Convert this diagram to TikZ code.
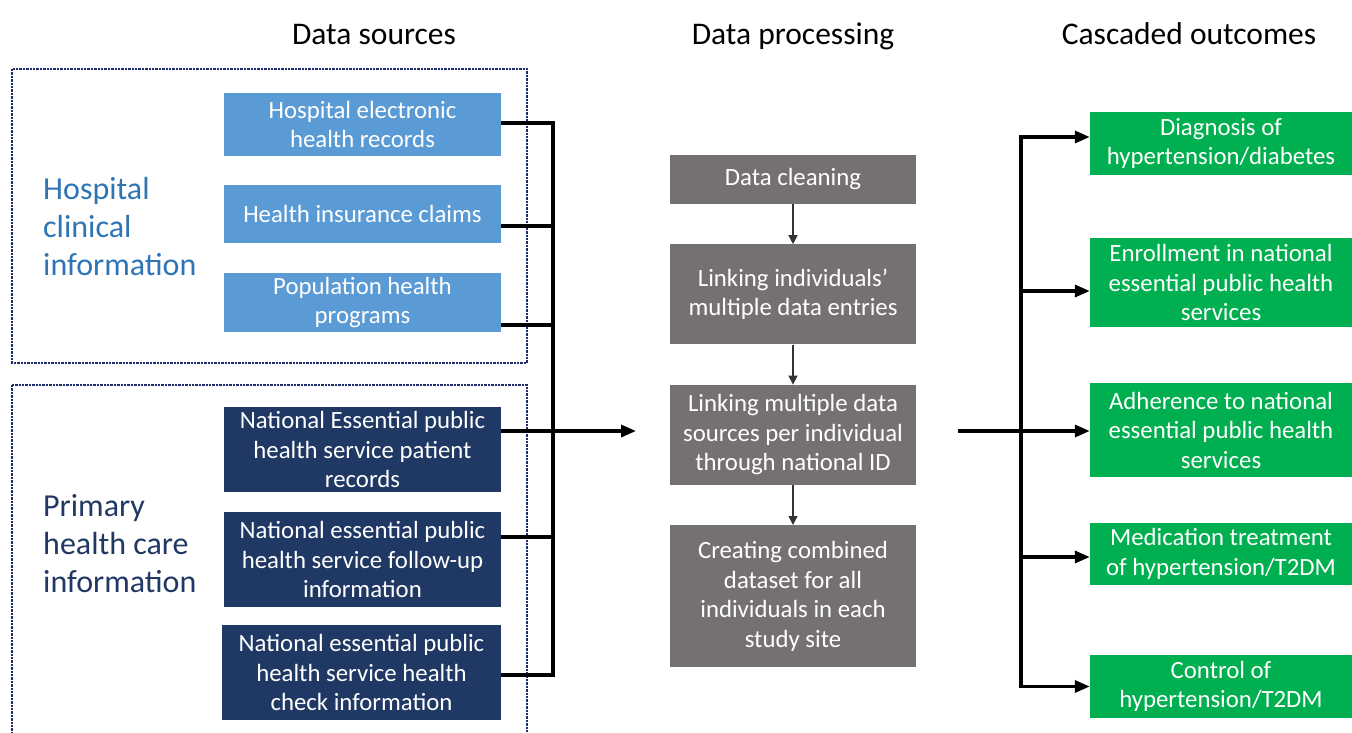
\documentclass[tikz,border=0pt]{standalone}
\usepackage{fontspec}
\setmainfont{Carlito}
\usetikzlibrary{arrows.meta, positioning, calc}
\definecolor{hospblue}{HTML}{5B9BD5}
\definecolor{phcnavy}{HTML}{203864}
\definecolor{labelblue}{HTML}{2E75B6}
\definecolor{procgray}{HTML}{767171}
\definecolor{outgreen}{HTML}{00B050}
\definecolor{framenavy}{HTML}{1F2C6B}

\begin{document}
\begin{tikzpicture}[x=1pt, y=-1pt, >=Stealth,
    box/.style={inner sep=0pt, align=center, text=white, font=\fontsize{24.8}{29.5}\selectfont},
    srcbox/.style={box, fill=hospblue, minimum width=277pt},
    phcbox/.style={box, fill=phcnavy, minimum width=277pt},
    procbox/.style={box, fill=procgray, minimum width=246pt},
    outbox/.style={box, fill=outgreen, minimum width=262pt},
    header/.style={anchor=base, font=\fontsize{31.5}{36}\selectfont},
    grplabel/.style={anchor=west, align=left, inner sep=0pt, font=\fontsize{32}{38}\selectfont},
    frame/.style={draw=framenavy, line width=2.4pt, densely dotted},
    bus/.style={line width=3.3pt},
    tip/.style={-{Triangle[length=15pt, width=12pt]}},
    flow/.style={draw=black!80, line width=1.3pt, -{Triangle[length=9pt, width=9pt]}}]
    \useasboundingbox (0,0) rectangle (1352,733);

    \node[header] (hsrc) at (374,45) {Data sources};
    \node[header] (hproc) at (793,45) {Data processing};
    \node[header] (hout) at (1189,45) {Cascaded outcomes};

    \draw[frame] (12,69) rectangle (527,363);
    \draw[frame] (12,385) rectangle (527,750);
    \node[grplabel, text=labelblue] (hosplab) at (43,227) {Hospital\\clinical\\information};
    \node[grplabel, text=phcnavy] (phclab) at (43,544) {Primary\\health care\\information};

    \node[srcbox, minimum height=63pt] (ehr) at (362.5,124.5) {Hospital electronic\\health records};
    \node[srcbox, minimum height=58pt] (claims) at (362.5,214) {Health insurance claims};
    \node[srcbox, minimum height=59pt] (progs) at (362.5,302.5) {Population health\\programs};
    \node[phcbox, minimum height=85pt] (pat) at (362.5,449.5) {National Essential public\\health service patient\\records};
    \node[phcbox, minimum height=95pt] (fup) at (362.5,559.5) {National essential public\\health service follow-up\\information};
    \node[phcbox, minimum height=95pt, minimum width=279pt] (chk) at (361.5,672.5) {National essential public\\health service health\\check information};

    \node[procbox, minimum height=49pt] (clean) at (793,179.5) {Data cleaning};
    \node[procbox, minimum height=100pt, below=40pt of clean] (linkent) {Linking individuals’\\multiple data entries};
    \node[procbox, minimum height=100pt, below=40pt of linkent] (linkid) {Linking multiple data\\sources per individual\\through national ID};
    \node[procbox, minimum height=142pt, below=40pt of linkid] (combine) {Creating combined\\dataset for all\\individuals in each\\study site};

    \node[outbox, minimum height=63pt] (diag) at (1221,143.5) {Diagnosis of\\hypertension/diabetes};
    \node[outbox, minimum height=89pt] (enrol) at (1221,282.5) {Enrollment in national\\essential public health\\services};
    \node[outbox, minimum height=94pt] (adher) at (1221,430) {Adherence to national\\essential public health\\services};
    \node[outbox, minimum height=62pt] (medic) at (1221,554) {Medication treatment\\of hypertension/T2DM};
    \node[outbox, minimum height=63pt] (ctrl) at (1221,686.5) {Control of\\hypertension/T2DM};

    \coordinate (joinL) at (553,431);
    \coordinate (intip) at (636,431);
    \coordinate (outstart) at (958,431);
    \coordinate (joinR) at (1021,431);

    \draw[bus] ([yshift=1.5pt]ehr.east) -| (joinL);
    \draw[bus] ([yshift=-12pt]claims.east) -| (joinL);
    \draw[bus] ([yshift=-22.5pt]progs.east) -| (joinL);
    \draw[bus] ([yshift=18.5pt]pat.east) -- (joinL);
    \draw[bus] ([yshift=22.5pt]fup.east) -| (joinL);
    \draw[bus] ([yshift=-2.5pt]chk.east) -| (joinL);
    \draw[bus, tip] (joinL) -- (intip);

    \draw[flow] (clean) -- (linkent);
    \draw[flow] (linkent) -- (linkid);
    \draw[flow] (linkid) -- (combine);

    \draw[bus] (outstart) -- (joinR);
    \draw[bus, tip] (joinR) |- ([yshift=6.5pt]diag.west);
    \draw[bus, tip] (joinR) |- ([yshift=-8.5pt]enrol.west);
    \draw[bus, tip] (joinR) |- ([yshift=-1pt]adher.west);
    \draw[bus, tip] (joinR) |- ([yshift=-3pt]medic.west);
    \draw[bus, tip] (joinR) |- (ctrl.west);
\end{tikzpicture}
\end{document}
